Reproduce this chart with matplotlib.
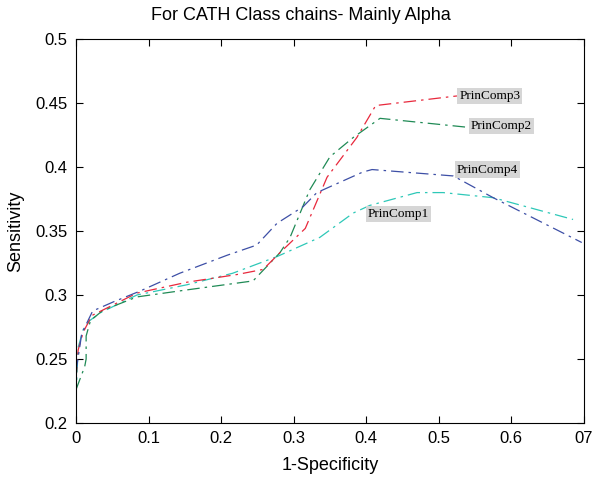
import matplotlib
matplotlib.use("Agg")
import matplotlib.pyplot as plt

# ROC-like curves
pc1_x = [0, 0.003, 0.01, 0.019, 0.033, 0.084, 0.153, 0.216, 0.277, 0.336, 0.382, 0.405, 0.47, 0.506, 0.575, 0.685]
pc1_y = [0.22, 0.259, 0.273, 0.28, 0.286, 0.300, 0.308, 0.317, 0.330, 0.345, 0.364, 0.370, 0.380, 0.380, 0.376, 0.359]

pc2_x = [0, 0.012, 0.014, 0.014, 0.02, 0.037, 0.084, 0.153, 0.244, 0.281, 0.295, 0.322, 0.35, 0.382, 0.419, 0.54]
pc2_y = [0.226, 0.244, 0.25, 0.268, 0.28, 0.288, 0.2985, 0.304, 0.311, 0.333, 0.345, 0.382, 0.408, 0.423, 0.438, 0.431]

pc3_x = [0, 0.003, 0.01, 0.022, 0.084, 0.153, 0.222, 0.258, 0.281, 0.316, 0.346, 0.387, 0.413, 0.525]
pc3_y = [0.234, 0.257, 0.271, 0.284, 0.3015, 0.310, 0.316, 0.320, 0.333, 0.352, 0.392, 0.423, 0.448, 0.4555]

pc4_x = [0, 0.008, 0.023, 0.051, 0.088, 0.143, 0.208, 0.249, 0.277, 0.313, 0.332, 0.395, 0.408, 0.52, 0.575, 0.697]
pc4_y = [0.24, 0.27, 0.2875, 0.2945, 0.303, 0.317, 0.331, 0.339, 0.356, 0.369, 0.380, 0.396, 0.398, 0.393, 0.376, 0.341]

series = [
    ("PrinComp1", pc1_x, pc1_y, "#2ec8b8", (0.402, 0.363)),
    ("PrinComp2", pc2_x, pc2_y, "#1f8a55", (0.544, 0.432)),
    ("PrinComp3", pc3_x, pc3_y, "#e8283c", (0.528, 0.4555)),
    ("PrinComp4", pc4_x, pc4_y, "#3d4fa6", (0.525, 0.398)),
]

x_ticks = [0, 0.1, 0.2, 0.3, 0.4, 0.5, 0.6, 0.7]
x_ticklabels = ["0", "0.1", "0.2", "0.3", "0.4", "0.5", "0.6", "07"]
y_ticks = [0.2, 0.25, 0.3, 0.35, 0.4, 0.45, 0.5]
y_ticklabels = ["0.2", "0.25", "0.3", "0.35", "0.4", "0.45", "0.5"]

plt.rcParams['font.family'] = ['Liberation Sans', 'DejaVu Sans']

fig = plt.figure(figsize=(6.02, 4.83), dpi=100)
ax = fig.add_axes([0.1262, 0.1242, 0.8438, 0.7951])

for name, xs, ys, col, pos in series:
    ax.plot(xs, ys, color=col, lw=0.9, linestyle=(0, (10, 4, 2, 4)))
    ax.text(pos[0], pos[1], name, family='Liberation Serif', fontsize=9.5,
            va='center', ha='left', color='black',
            bbox=dict(facecolor='#d6d6d6', edgecolor='none', pad=1.5))

ax.set_xlim(0, 0.7)
ax.set_ylim(0.2, 0.5)
ax.set_xticks(x_ticks)
ax.set_xticklabels(x_ticklabels)
ax.set_yticks(y_ticks)
ax.set_yticklabels(y_ticklabels)
ax.tick_params(direction='in', top=True, right=True, labelsize=12, length=5, pad=6)
for s in ax.spines.values():
    s.set_linewidth(0.8)

ax.set_xlabel('1-Specificity', fontsize=13, labelpad=8)
ax.set_ylabel('Sensitivity', fontsize=13, labelpad=8)
# title is centred on the figure, not on the axes
fig.text(0.5, 0.968, 'For CATH Class chains- Mainly Alpha', fontsize=13,
         ha='center', va='center')

fig.savefig('out.png', dpi=100)
